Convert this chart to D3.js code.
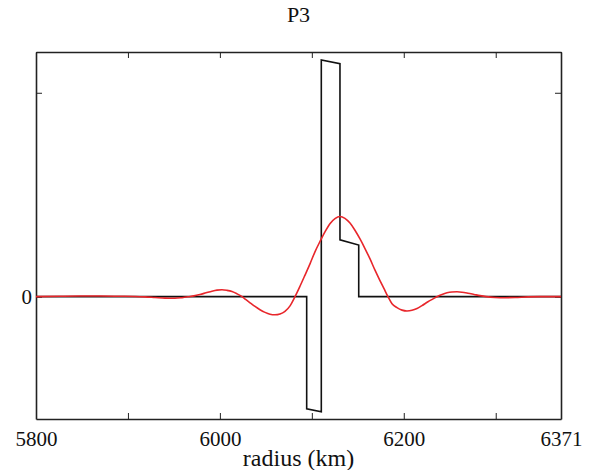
<!DOCTYPE html>
<html>
<head>
<meta charset="utf-8">
<script src="https://cdn.jsdelivr.net/npm/d3@7"></script>
<style>
  body { margin: 0; background: #fff; }
  svg text { font-family: "Liberation Serif", "Times New Roman", "DejaVu Serif", serif; fill: #111; }
</style>
</head>
<body>
<svg id="chart" width="603" height="470"></svg>
<script>
// model profile (black) - step shape
const stepRadius = [5800, 6094.4, 6094.4, 6110.3, 6110.3, 6130.6, 6130.6, 6151, 6151, 6371];
const stepValue  = [0, 0, -0.550, -0.565, 1.161, 1.143, 0.279, 0.253, 0, 0];

// smoothed profile (red)
const smoothRadius = [5800.0, 5826.1, 5847.9, 5869.6, 5891.4, 5907.7, 5918.6, 5929.4, 5940.3, 5951.2,
  5958.8, 5966.4, 5971.8, 5978.4, 5984.9, 5991.4, 5996.9, 6002.3, 6007.7, 6013.2,
  6018.6, 6024.1, 6028.4, 6032.8, 6038.2, 6043.6, 6049.1, 6054.5, 6059.9, 6065.4,
  6070.8, 6076.3, 6081.7, 6087.1, 6092.6, 6098.0, 6103.4, 6108.9, 6114.3, 6119.7,
  6125.2, 6130.6, 6136.0, 6141.5, 6146.9, 6152.4, 6157.8, 6163.3, 6168.7, 6174.1,
  6178.5, 6182.8, 6187.2, 6192.6, 6198.1, 6203.5, 6208.9, 6214.4, 6219.8, 6226.3,
  6231.8, 6236.1, 6241.6, 6247.0, 6252.4, 6257.9, 6263.3, 6269.8, 6276.4, 6282.9,
  6289.4, 6299.2, 6310.1, 6321.0, 6335.1, 6348.2, 6371.0];
const smoothValue = [0, 0.002, 0.003, 0.003, 0.002, 0.001, -0.001, -0.004, -0.007, -0.008,
  -0.005, 0, 0.004, 0.011, 0.019, 0.027, 0.032, 0.034, 0.031, 0.025,
  0.014, 0, -0.015, -0.030, -0.048, -0.064, -0.077, -0.086, -0.089, -0.085,
  -0.072, -0.045, 0, 0.051, 0.106, 0.161, 0.220, 0.271, 0.318, 0.358,
  0.383, 0.393, 0.384, 0.361, 0.326, 0.283, 0.236, 0.185, 0.130, 0.079,
  0.039, 0, -0.035, -0.054, -0.066, -0.070, -0.067, -0.058, -0.044, -0.025,
  -0.011, 0, 0.011, 0.019, 0.023, 0.024, 0.022, 0.017, 0.011, 0.005,
  0, -0.004, -0.005, -0.004, -0.001, 0, 0];

const xTicks = [5800, 5900, 6000, 6100, 6200, 6300, 6371];
const xTickLabels = [5800, 6000, 6200, 6371];
const yTicks = [0, 1];
const yTickLabels = [0];
const title = "P3";
const xTitle = "radius (km)";

const svg = d3.select("#chart");
const mLeft = 36, mRight = 561, mTop = 52, mBottom = 419;

const x = d3.scaleLinear().domain([5800, 6371]).range([mLeft, mRight]);
const y = d3.scaleLinear().domain([-0.6, 1.2]).range([mBottom, mTop]);

const fmtX = d => xTickLabels.includes(d) ? d : "";
const fmtY = d => yTickLabels.includes(d) ? d : "";

// axes, ticks pointing inward
const gB = svg.append("g").attr("transform", "translate(0," + mBottom + ")")
  .call(d3.axisBottom(x).tickValues(xTicks).tickFormat(fmtX).tickSizeInner(-6).tickSizeOuter(0).tickPadding(12));
const gT = svg.append("g").attr("transform", "translate(0," + mTop + ")")
  .call(d3.axisTop(x).tickValues(xTicks).tickFormat("").tickSizeInner(-6).tickSizeOuter(0));
const gL = svg.append("g").attr("transform", "translate(" + mLeft + ",0)")
  .call(d3.axisLeft(y).tickValues(yTicks).tickFormat(fmtY).tickSizeInner(-6).tickSizeOuter(0).tickPadding(4));
const gR = svg.append("g").attr("transform", "translate(" + mRight + ",0)")
  .call(d3.axisRight(y).tickValues(yTicks).tickFormat("").tickSizeInner(-6).tickSizeOuter(0));

[gB, gT, gL, gR].forEach(g => {
  g.attr("font-family", null);
  g.select(".domain").attr("stroke", "#222").attr("stroke-width", 1.6);
  g.selectAll(".tick line").attr("stroke", "#222").attr("stroke-width", 1);
  g.selectAll("text").attr("font-size", 21).attr("fill", "#111");
});

const stepData = stepRadius.map((r, i) => [r, stepValue[i]]);
const smoothData = smoothRadius.map((r, i) => [r, smoothValue[i]]);

svg.append("path")
  .datum(stepData)
  .attr("fill", "none")
  .attr("stroke", "#111")
  .attr("stroke-width", 1.6)
  .attr("d", d3.line().x(d => x(d[0])).y(d => y(d[1])));

svg.append("path")
  .datum(smoothData)
  .attr("fill", "none")
  .attr("stroke", "#e8262b")
  .attr("stroke-width", 1.6)
  .attr("d", d3.line().curve(d3.curveMonotoneX).x(d => x(d[0])).y(d => y(d[1])));

svg.append("text")
  .attr("x", (mLeft + mRight) / 2).attr("y", 22)
  .attr("text-anchor", "middle").attr("font-size", 22)
  .text(title);

svg.append("text")
  .attr("x", (mLeft + mRight) / 2).attr("y", 466)
  .attr("text-anchor", "middle").attr("font-size", 24)
  .text(xTitle);
</script>
</body>
</html>
